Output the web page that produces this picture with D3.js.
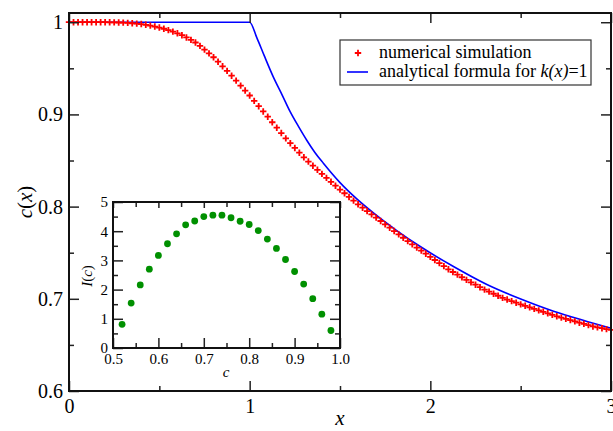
<!DOCTYPE html>
<html>
<head>
<meta charset="utf-8">
<script src="https://cdn.jsdelivr.net/npm/d3@7"></script>
<style>
  body { margin: 0; background: #fff; }
  .axis path { stroke: none; }
  .axis line { stroke: #222; stroke-width: 1.5; }
</style>
</head>
<body>
<div id="container"></div>
<script>
// numerical simulation, sampled every simStep in x
const simStep = 0.025;
const simC = [
  1.0000, 1.0000, 1.0000, 1.0000, 1.0000, 1.0000, 1.0000, 1.0000, 1.0000, 0.9999,
  0.9998, 0.9997, 0.9996, 0.9993, 0.9989, 0.9985, 0.9980, 0.9972, 0.9963, 0.9953,
  0.9942, 0.9929, 0.9914, 0.9898, 0.9880, 0.9859, 0.9835, 0.9809, 0.9780, 0.9743,
  0.9703, 0.9662, 0.9620, 0.9572, 0.9522, 0.9472, 0.9420, 0.9366, 0.9312, 0.9259,
  0.9205, 0.9147, 0.9089, 0.9032, 0.8975, 0.8915, 0.8856, 0.8798, 0.8740, 0.8688,
  0.8636, 0.8585, 0.8535, 0.8489, 0.8444, 0.8399, 0.8355, 0.8312, 0.8269, 0.8227,
  0.8185, 0.8145, 0.8105, 0.8065, 0.8025, 0.7988, 0.7952, 0.7916, 0.7880, 0.7844,
  0.7807, 0.7771, 0.7735, 0.7699, 0.7662, 0.7626, 0.7590, 0.7556, 0.7523, 0.7489,
  0.7455, 0.7421, 0.7388, 0.7354, 0.7320, 0.7291, 0.7262, 0.7234, 0.7205, 0.7179,
  0.7153, 0.7126, 0.7100, 0.7078, 0.7055, 0.7033, 0.7010, 0.6992, 0.6975, 0.6958,
  0.6940, 0.6924, 0.6908, 0.6891, 0.6875, 0.6859, 0.6843, 0.6826, 0.6810, 0.6796,
  0.6783, 0.6769, 0.6755, 0.6741, 0.6728, 0.6714, 0.6700, 0.6690, 0.6681, 0.6671,
  0.6662
];

// analytical formula for k(x)=1
const anaX = [0, 1.0, 1.04, 1.08, 1.13, 1.18, 1.224, 1.27, 1.316, 1.36, 1.408, 1.5, 1.593, 1.685, 1.814, 1.944, 2.128, 2.313, 2.497, 2.682, 2.867, 3.0];
const anaC = [1, 1.0, 0.983, 0.964, 0.941, 0.921, 0.903, 0.887, 0.872, 0.859, 0.847, 0.826, 0.8083, 0.7931, 0.774, 0.7567, 0.735, 0.7155, 0.700, 0.6865, 0.6755, 0.668];

// inset I(c)
const insetCx = [0.52, 0.54, 0.56, 0.58, 0.60, 0.62, 0.64, 0.66, 0.68, 0.70, 0.72, 0.74, 0.76, 0.78, 0.80, 0.82, 0.84, 0.86, 0.88, 0.90, 0.92, 0.94, 0.96, 0.98];
const insetI = [0.81, 1.54, 2.16, 2.70, 3.17, 3.57, 3.91, 4.22, 4.35, 4.50, 4.55, 4.55, 4.46, 4.34, 4.23, 4.02, 3.73, 3.41, 3.03, 2.62, 2.19, 1.69, 1.16, 0.60];

const xMajor = [0, 1, 2, 3];
const xMinor = [0.5, 1.5, 2.5];
const yMajor = [0.6, 0.7, 0.8, 0.9, 1.0];
const yMinor = [0.65, 0.75, 0.85, 0.95];
const ixMajor = [0.5, 0.6, 0.7, 0.8, 0.9, 1.0];
const ixMinor = [0.55, 0.65, 0.75, 0.85, 0.95];
const iyMajor = [0, 1, 2, 3, 4, 5];
const iyMinor = [0.5, 1.5, 2.5, 3.5, 4.5];

const width = 613;
const height = 431;
const serif = "'Liberation Serif'";

const svg = d3.select("#container")
              .append("svg")
              .attr("width", width)
              .attr("height", height)
              .style("font-family", serif);

const x = d3.scaleLinear().domain([0, 3]).range([69, 611]);
const y = d3.scaleLinear().domain([0.6, 1.01]).range([391, 13]);

// draws inward ticks on all four sides of a frame
function frameAxes(g, xs, ys, xMaj, xMin, yMaj, yMin, opts) {
  const [x0, x1] = xs.range();
  const [y0, y1] = ys.range();
  const axes = [
    [d3.axisBottom, xs, xMaj, xMin, "translate(0," + y0 + ")", true, opts.xFmt],
    [d3.axisTop, xs, xMaj, xMin, "translate(0," + y1 + ")", false, null],
    [d3.axisLeft, ys, yMaj, yMin, "translate(" + x0 + ",0)", true, opts.yFmt],
    [d3.axisRight, ys, yMaj, yMin, "translate(" + x1 + ",0)", false, null]
  ];
  axes.forEach(([fn, sc, maj, min, tr, labels, fmt]) => {
    const top = fn === d3.axisTop;
    g.append("g")
     .attr("class", "axis")
     .attr("transform", tr)
     .call(fn(sc).tickValues(maj).tickSizeInner(-(top ? opts.topMajor : opts.major)).tickSizeOuter(0)
                 .tickPadding(fn === d3.axisBottom ? opts.xPad : opts.yPad)
                 .tickFormat(labels ? fmt : ""))
     .call(a => a.attr("font-family", null).attr("font-size", null))
     .call(a => a.selectAll("text").style("font-family", serif).style("font-size", opts.font + "px"));
    g.append("g")
     .attr("class", "axis")
     .attr("transform", tr)
     .call(fn(sc).tickValues(min).tickSizeInner(-opts.minor).tickSizeOuter(0).tickFormat(""));
  });
  g.append("rect")
   .attr("x", x0).attr("y", y1)
   .attr("width", x1 - x0).attr("height", y0 - y1)
   .attr("fill", "none")
   .attr("stroke", "#111")
   .attr("stroke-width", 2);
}

// main curves
svg.append("path")
   .datum(anaX.map((d, i) => [d, anaC[i]]))
   .attr("fill", "none")
   .attr("stroke", "#0000ff")
   .attr("stroke-width", 1.6)
   .attr("d", d3.line().x(d => x(d[0])).y(d => y(d[1])).curve(d3.curveMonotoneX));

const plus = "M-3.2,0H3.2M0,-3.2V3.2";
svg.append("g")
   .selectAll("path")
   .data(simC)
   .enter()
   .append("path")
   .attr("transform", (d, i) => "translate(" + x(i * simStep) + "," + y(d) + ")")
   .attr("d", plus)
   .attr("stroke", "#ff0000")
   .attr("stroke-width", 1.8);

frameAxes(svg, x, y, xMajor, xMinor, yMajor, yMinor, {
  major: 10, topMajor: 10, minor: 5, font: 20, xPad: 8, yPad: 6,
  xFmt: d3.format("d"),
  yFmt: (d) => d === 1 ? "1" : d3.format(".1f")(d)
});

svg.append("text")
   .attr("x", 340).attr("y", 425)
   .attr("text-anchor", "middle")
   .style("font-family", serif)
   .style("font-size", "21px")
   .style("font-style", "italic")
   .text("x");

const yLab = svg.append("text")
   .attr("transform", "translate(32,202)rotate(-90)")
   .attr("text-anchor", "middle")
   .style("font-family", serif)
   .style("font-size", "21px");
yLab.append("tspan").style("font-style", "italic").text("c");
yLab.append("tspan").text("(");
yLab.append("tspan").style("font-style", "italic").text("x");
yLab.append("tspan").text(")");

// legend
const legend = svg.append("g");
legend.append("rect")
      .attr("x", 340).attr("y", 40)
      .attr("width", 251).attr("height", 45)
      .attr("fill", "#fff")
      .attr("stroke", "#333")
      .attr("stroke-width", 1.2);
legend.append("path")
      .attr("transform", "translate(358,53)")
      .attr("d", plus)
      .attr("stroke", "#ff0000")
      .attr("stroke-width", 1.8);
legend.append("line")
      .attr("x1", 347).attr("x2", 368)
      .attr("y1", 72).attr("y2", 72)
      .attr("stroke", "#0000ff")
      .attr("stroke-width", 1.6);
legend.append("text")
      .attr("x", 379).attr("y", 58)
      .style("font-family", serif)
      .style("font-size", "18px")
      .text("numerical simulation");
const l2 = legend.append("text")
      .attr("x", 379).attr("y", 77)
      .style("font-family", serif)
      .style("font-size", "18px");
l2.append("tspan").text("analytical formula for ");
l2.append("tspan").style("font-style", "italic").text("k(x)");
l2.append("tspan").text("=1");

// inset
const ix = d3.scaleLinear().domain([0.5, 1.0]).range([113, 340]);
const iy = d3.scaleLinear().domain([0, 5]).range([348, 202]);
const inset = svg.append("g");
inset.append("rect")
     .attr("x", 113).attr("y", 202)
     .attr("width", 227).attr("height", 146)
     .attr("fill", "#fff");

inset.selectAll("circle")
     .data(insetI)
     .enter()
     .append("circle")
     .attr("cx", (d, i) => ix(insetCx[i]))
     .attr("cy", (d) => iy(d))
     .attr("r", 3.4)
     .attr("fill", "#009000");

frameAxes(inset, ix, iy, ixMajor, ixMinor, iyMajor, iyMinor, {
  major: 10, topMajor: 6, minor: 5, font: 15, xPad: 5, yPad: 5,
  xFmt: d3.format(".1f"),
  yFmt: d3.format("d")
});

inset.append("text")
     .attr("x", 226).attr("y", 377)
     .attr("text-anchor", "middle")
     .style("font-family", serif)
     .style("font-size", "15px")
     .style("font-style", "italic")
     .text("c");

const iLab = inset.append("text")
     .attr("transform", "translate(92,276)rotate(-90)")
     .attr("text-anchor", "middle")
     .style("font-family", serif)
     .style("font-size", "15px");
iLab.append("tspan").style("font-style", "italic").text("I");
iLab.append("tspan").text("(");
iLab.append("tspan").style("font-style", "italic").text("c");
iLab.append("tspan").text(")");
</script>
</body>
</html>
